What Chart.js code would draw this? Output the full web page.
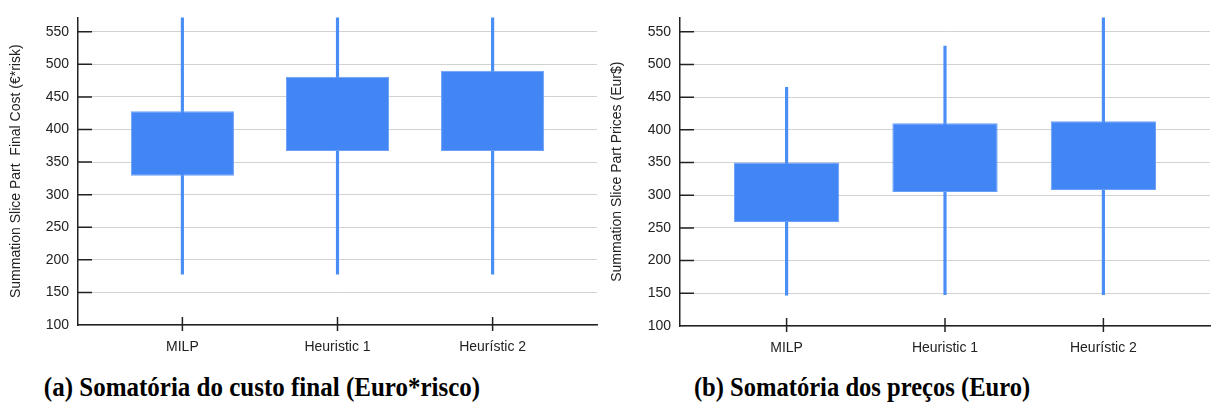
<!DOCTYPE html>
<html>
<head>
<meta charset="utf-8">
<script src="https://cdn.jsdelivr.net/npm/chart.js@4.4.1/dist/chart.umd.min.js"></script>
<style>
  body { margin: 0; background: #fff; width: 1214px; height: 408px; position: relative; overflow: hidden; }
  .wrap { position: absolute; top: 0; height: 360px; }
  #wrapA { left: 0; width: 600px; }
  #wrapB { left: 600px; width: 614px; }
  .cap { position: absolute; top: 374px; white-space: nowrap; line-height: 1;
         font: bold 27px "Liberation Serif", "Times New Roman", serif; color: #000; }
</style>
</head>
<body>
<div class="wrap" id="wrapA"><canvas id="costChart" width="600" height="360"></canvas></div>
<div class="wrap" id="wrapB"><canvas id="priceChart" width="614" height="360"></canvas></div>
<div class="cap" style="left:262px; line-height:27px; transform: translateX(-50%) scaleX(0.926)">(a) Somatória do custo final (Euro*risco)</div>
<div class="cap" style="left:862px; line-height:27px; transform: translateX(-50%) scaleX(0.91)">(b) Somatória dos preços (Euro)</div>
<script>
// shared axes
const categories = ['MILP', 'Heuristic 1', 'Heurístic 2'];
const yTickValues = [100, 150, 200, 250, 300, 350, 400, 450, 500, 550];
const yMin = 100, yMax = 572;

// (a) final cost (€*risk)
const costWhiskerLow = [178, 178, 178];
const costQ1 = [329, 367, 367];
const costQ3 = [428, 481, 490];
const costWhiskerHigh = [572, 572, 572];

// (b) part prices (Eur$)
const priceWhiskerLow = [147, 148, 148];
const priceQ1 = [259, 305, 308];
const priceQ3 = [350, 410, 413];
const priceWhiskerHigh = [465, 528, 572];

const BLUE = '#4285f4';
const FONT = 'Liberation Sans, Arial, sans-serif';

// small dark tick marks: inside the plot on y, crossing the axis on x
const axisTicks = {
    id: 'axisTicks',
    afterDraw(chart) {
        const { ctx, chartArea, scales: { x, y } } = chart;
        ctx.save();
        ctx.strokeStyle = '#222';
        ctx.lineWidth = 1.5;
        ctx.beginPath();
        yTickValues.forEach(v => {
            if (v === yMin) return;
            const py = y.getPixelForValue(v);
            ctx.moveTo(chartArea.left, py);
            ctx.lineTo(chartArea.left + 14, py);
        });
        categories.forEach((c, i) => {
            const px = x.getPixelForValue(i);
            ctx.moveTo(px, chartArea.bottom - 8);
            ctx.lineTo(px, chartArea.bottom + 6);
        });
        ctx.stroke();
        ctx.restore();
    }
};

function boxChart(id, yTitle, low, q1, q3, high, layout) {
    const boxes = categories.map((c, i) => ({ x: i, y: [q1[i], q3[i]] }));
    const whiskers = categories.map((c, i) => ({ x: i, y: [low[i], high[i]] }));

    return new Chart(document.getElementById(id), {
        type: 'bar',
        data: {
            datasets: [{
                data: boxes,
                backgroundColor: BLUE,
                borderColor: '#6a9ff6',
                borderWidth: 1,
                borderSkipped: false,
                grouped: false,
                categoryPercentage: 1,
                barPercentage: 0.665
            }, {
                data: whiskers,
                backgroundColor: '#4a8ef5',
                borderWidth: 0,
                grouped: false,
                barThickness: 2.5
            }]
        },
        options: {
            responsive: false,
            animation: false,
            layout: { padding: { left: 0, right: layout.right, top: layout.top, bottom: 0 } },
            scales: {
                x: {
                    type: 'linear',
                    offset: false,
                    bounds: 'data',
                    min: -0.673,
                    max: 2.673,
                    afterBuildTicks: s => { s.ticks = categories.map((c, i) => ({ value: i })); },
                    afterFit: s => { s.height = layout.xHeight; },
                    grid: { display: false, drawTicks: false, offset: false },
                    border: { display: true, color: '#222', width: 1.5 },
                    ticks: {
                        padding: 14,
                        color: '#222',
                        font: { family: FONT, size: 14 },
                        callback: v => categories[v]
                    }
                },
                y: {
                    min: yMin,
                    max: yMax,
                    afterBuildTicks: s => { s.ticks = yTickValues.map(v => ({ value: v })); },
                    afterFit: s => { s.width = layout.yWidth; },
                    grid: { color: '#d2d2d2', lineWidth: 1, drawTicks: false },
                    border: { display: true, color: '#222', width: 1.5 },
                    ticks: {
                        padding: 9,
                        color: '#222',
                        font: { family: FONT, size: 14 }
                    },
                    title: {
                        display: true,
                        text: yTitle,
                        color: '#222',
                        font: { family: FONT, size: 14 },
                        padding: { top: layout.titlePad, bottom: 0 }
                    }
                }
            },
            plugins: {
                legend: { display: false },
                tooltip: { enabled: false }
            }
        },
        plugins: [axisTicks]
    });
}

boxChart('costChart', 'Summation Slice Part  Final Cost (€*risk)',
    costWhiskerLow, costQ1, costQ3, costWhiskerHigh,
    { top: 14, right: 3, xHeight: 35, yWidth: 78, titlePad: 8 });

boxChart('priceChart', 'Summation Slice Part Prices (Eur$)',
    priceWhiskerLow, priceQ1, priceQ3, priceWhiskerHigh,
    { top: 9, right: 4, xHeight: 34, yWidth: 80, titlePad: 9 });
</script>
</body>
</html>
